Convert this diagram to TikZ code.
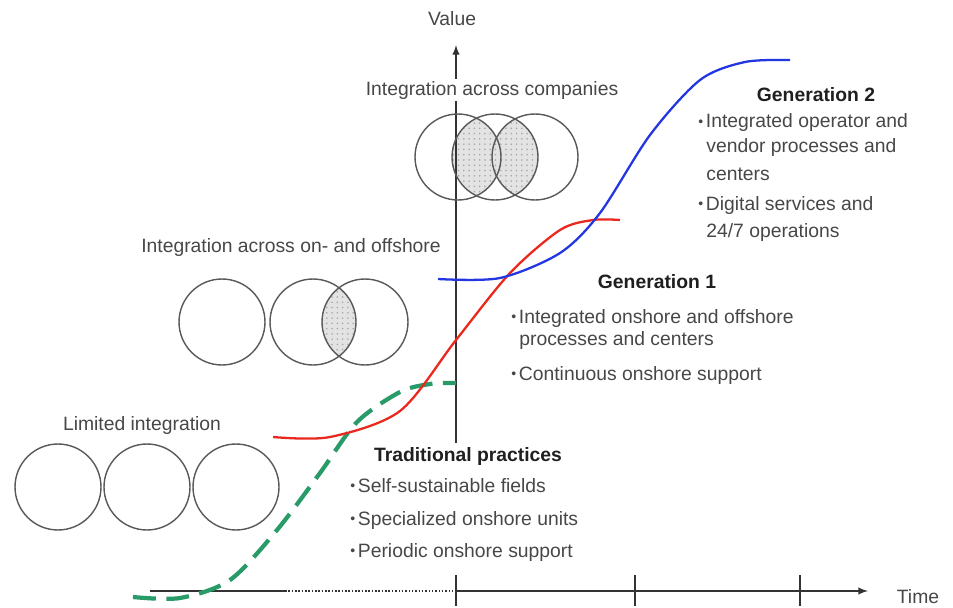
\documentclass[tikz,border=0pt]{standalone}
\usepackage{fontspec}
\setmainfont{Liberation Sans}
\usetikzlibrary{patterns,backgrounds}
\definecolor{dashgreen}{RGB}{40,155,105}
\definecolor{curvered}{RGB}{235,40,30}
\definecolor{curveblue}{RGB}{35,55,225}
\newcommand{\bul}{{\fontsize{8}{8}\selectfont\raisebox{0.1em}{•}}\hspace{1.5pt}}

\begin{document}
\begin{tikzpicture}[x=0.02cm, y=-0.02cm, >=latex,
    circ/.style={circle, draw=black!65, line width=0.8pt, minimum size=1.72cm, inner sep=0pt},
    txt/.style={font=\fontsize{11}{13}\selectfont, text=black!72, inner sep=0pt},
    head/.style={txt, font=\fontsize{11}{13}\selectfont\bfseries, text=black!88},
    axis/.style={draw=black!80, line width=0.9pt}]
    \def \radius {0.86cm}
    \useasboundingbox (0,0) rectangle (953,608);

    % axes
    \coordinate (o) at (456,591);
    \coordinate (xs) at (150,591);
    \coordinate (xd) at (285,591);
    \coordinate (xe) at (868,591);
    \coordinate (ys) at (456,443);
    \coordinate (ye) at (456,45);
    \draw[axis] (xs) -- (xd);
    \draw[axis, densely dotted, line width=1.4pt] (xd) -- (o);
    \draw[axis, ->] (o) -- (xe);
    \draw[axis, ->] (ys) -- (ye);
    \foreach \t in {456,635,800}
      \draw[axis] (\t,575) -- (\t,606);
    \node[txt, anchor=base] (value) at (452,26) {Value};
    \node[txt, anchor=base] (time) at (918,603) {Time};

    \foreach \x [count=\i] in {58,147,236}
      \node[circ] (lim\i) at (\x,487) {};
    \foreach \x [count=\i] in {222,313,365}
      \node[circ] (on\i) at (\x,322) {};
    \foreach \x [count=\i] in {458,495,535}
      \node[circ] (co\i) at (\x,157) {};

    \begin{scope}[on background layer]
      \foreach \a/\b in {on2/on3, co1/co2, co2/co3}
      {
        \begin{scope}
          \clip (\a.center) circle (\radius);
          \fill[gray!22] (\b.center) circle (\radius);
          \fill[pattern=dots, pattern color=gray!70] (\b.center) circle (\radius);
        \end{scope}
      }
    \end{scope}

    \node[txt, anchor=base, fill=white, inner sep=1pt] (colab) at (492,95) {Integration across companies};
    \node[txt, anchor=base] (onlab) at (291,252) {Integration across on- and offshore};
    \node[txt, anchor=base] (limlab) at (142,430) {Limited integration};

    \draw[dashgreen, line width=2.4pt, dash pattern=on 13pt off 6pt] plot[smooth, tension=0.5] coordinates
      {(133,597) (180,598) (230,580) (277,530) (320,473) (357,422) (400,392) (430,384) (456,383)};
    \draw[curvered, line width=1.3pt] plot[smooth, tension=0.5] coordinates
      {(273,437) (330,437) (400,411) (456,340) (510,273) (560,230) (593,220) (620,220)};
    \draw[curveblue, line width=1.3pt] plot[smooth, tension=0.5] coordinates
      {(438,279) (500,278) (560,253) (600,213) (650,135) (700,80) (745,62) (790,60)};

    \node[head, anchor=base] (trad) at (468,461) {Traditional practices};
    \node[txt, anchor=base west] (trad1) at (350,492) {\bul Self-sustainable fields};
    \node[txt, anchor=base west] (trad2) at (350,525) {\bul Specialized onshore units};
    \node[txt, anchor=base west] (trad3) at (350,557) {\bul Periodic onshore support};

    \node[head, anchor=base] (gen1) at (657,288) {Generation 1};
    \node[txt, anchor=base west] (gen1a) at (511,323) {\bul Integrated onshore and offshore};
    \node[txt, anchor=base west] (gen1b) at (519,345) {processes and centers};
    \node[txt, anchor=base west] (gen1c) at (511,380) {\bul Continuous onshore support};

    \node[head, anchor=base] (gen2) at (816,102) {Generation 2};
    \node[txt, anchor=base west] (gen2a) at (698,128) {\bul Integrated operator and};
    \node[txt, anchor=base west] (gen2b) at (706,153) {vendor processes and};
    \node[txt, anchor=base west] (gen2c) at (706,180) {centers};
    \node[txt, anchor=base west] (gen2d) at (698,210) {\bul Digital services and};
    \node[txt, anchor=base west] (gen2e) at (706,237) {24/7 operations};
\end{tikzpicture}
\end{document}
